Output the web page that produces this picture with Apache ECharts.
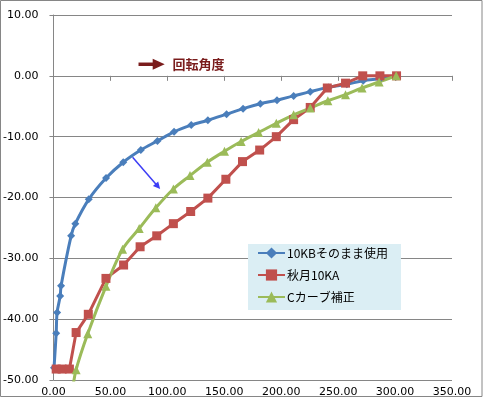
<!DOCTYPE html>
<html><head><meta charset="utf-8">
<script src="https://cdn.jsdelivr.net/npm/echarts@6/dist/echarts.min.js"></script>
<style>html,body{margin:0;padding:0;background:#fff}#c{width:483px;height:398px}</style>
</head><body><div id="c"></div>
<script>
// ---- data ----
const seriesNames = ['10KBそのまま使用', '秋月10KA', 'Cカーブ補正'];
const blueData = [[0.5,-48],[2.4,-42.3],[3.2,-38.9],[5.9,-36.2],[6.7,-34.5],[15.5,-26.3],[19.2,-24.3],[31,-20.3],[46.2,-16.8],[61.3,-14.2],[76.7,-12.2],[91.3,-10.7],[105.9,-9.2],[121,-8.1],[135.6,-7.3],[152,-6.3],[166.5,-5.4],[181.7,-4.6],[196.3,-4.0],[210.9,-3.3],[225.5,-2.6],[241.5,-1.9],[257.6,-1.4],[272,-0.8],[286.7,-0.5],[301.3,-0.1]];
const redData = [[2.4,-48.2],[7.6,-48.2],[14,-48.2],[19.9,-42.2],[30.6,-39.2],[46.1,-33.3],[61.6,-31.1],[76.1,-28.1],[90.7,-26.3],[105.3,-24.3],[120.5,-22.3],[135.6,-20.1],[151.4,-17.0],[166,-14.1],[181.1,-12.2],[195.7,-10.0],[210.9,-7.2],[225.5,-5.2],[240.5,-2.0],[256.5,-1.2],[271.6,0],[286.7,0],[301.3,0]];
const greenData = [[16.5,-52],[19.9,-48.3],[30.1,-42.4],[46.1,-34.6],[60.7,-28.5],[75.3,-25.1],[89.9,-21.7],[105.3,-18.6],[119.9,-16.4],[135.1,-14.2],[150.2,-12.4],[164.8,-10.8],[180.2,-9.3],[195.7,-7.8],[210.9,-6.4],[225.5,-5.3],[241,-4.1],[256.5,-3.1],[271,-2.0],[286,-1.0],[301,0]];
const xRange = [0, 350, 50];
const yRange = [-50, 10, 10];
const annotText = '回転角度';
// annotation anchor points in data coords
const redArrow = [[74.7, 1.9], [97.7, 1.9]];
const redTextAt = [104.5, 1.9];
const blueArrow = [[69.5, -13.4], [93.7, -18.6]];

const colors = ['#4a7ebb', '#c0504d', '#9bbb59'];
const axisGray = '#868686';
const fmt = v => v.toFixed(2);

const chart = echarts.init(document.getElementById('c'), null, {renderer: 'canvas'});
const sizes = {diamond: 8, rect: 9, triangle: 9};
const lineSeries = (name, data, color, symbol, smooth) => ({
  name, type: 'line', data, smooth, clip: true,
  symbol, symbolSize: sizes[symbol],
  showAllSymbol: true,
  lineStyle: {color, width: 3},
  itemStyle: {color, borderWidth: 0},
  emphasis: {disabled: true},
  animation: false
});
chart.setOption({
  animation: false,
  grid: {left: 52, top: 15, right: 31, bottom: 17, containLabel: false},
  xAxis: {
    type: 'value', min: xRange[0], max: xRange[1], interval: xRange[2],
    axisLine: {show: true, onZero: true, lineStyle: {color: axisGray, width: 1}},
    axisTick: {show: true, length: 5, lineStyle: {color: axisGray}},
    splitLine: {show: false},
    axisLabel: {formatter: fmt, color: '#000', fontFamily: 'DejaVu Sans', fontSize: 11, margin: 7}
  },
  yAxis: {
    type: 'value', min: yRange[0], max: yRange[1], interval: yRange[2],
    axisLine: {show: true, onZero: false, lineStyle: {color: axisGray, width: 1}},
    axisTick: {show: true, length: 4, lineStyle: {color: axisGray}},
    splitLine: {show: true, lineStyle: {color: axisGray, width: 1}},
    axisLabel: {formatter: fmt, color: '#000', fontFamily: 'DejaVu Sans', fontSize: 11, margin: 15}
  },
  legend: {
    orient: 'vertical', left: 248, top: 244,
    backgroundColor: '#dbeef4',
    padding: [3, 13, 7, 9],
    itemGap: 10, itemWidth: 27, itemHeight: 14,
    textStyle: {fontFamily: 'Noto Sans CJK JP', fontSize: 12, color: '#000', padding: [0,0,0,-3]},
    data: seriesNames
  },
  series: [
    lineSeries(seriesNames[0], blueData, colors[0], 'diamond', 0.35),
    lineSeries(seriesNames[1], redData, colors[1], 'rect', false),
    lineSeries(seriesNames[2], greenData, colors[2], 'triangle', 0.35)
  ]
});

function px(p) { return chart.convertToPixel({gridIndex: 0}, p); }
function arrow(a, b, color, width, headLen, headHalf) {
  const S = px(a), E = px(b);
  const dx = E[0] - S[0], dy = E[1] - S[1];
  const L = Math.hypot(dx, dy);
  const ux = dx / L, uy = dy / L, nx = -uy, ny = ux;
  const bx = E[0] - ux * headLen, by = E[1] - uy * headLen;
  return [
    {type: 'line', shape: {x1: S[0], y1: S[1], x2: bx + ux, y2: by + uy}, style: {stroke: color, lineWidth: width}},
    {type: 'polygon', shape: {points: [[E[0], E[1]], [bx + nx * headHalf, by + ny * headHalf], [bx - nx * headHalf, by - ny * headHalf]]}, style: {fill: color}}
  ];
}
const tp = px(redTextAt);
chart.setOption({
  graphic: [
    {type: 'rect', shape: {x: 0.5, y: 0.5, width: 481.5, height: 396}, style: {fill: 'none', stroke: axisGray, lineWidth: 1}, silent: true},
    ...arrow(redArrow[0], redArrow[1], '#7a1c1c', 3.5, 12, 5.5),
    {type: 'text', x: tp[0], y: tp[1], style: {text: annotText, fill: '#7a1c1c', font: 'bold 13px "Noto Sans CJK JP"', verticalAlign: 'middle', align: 'left'}},
    ...arrow(blueArrow[0], blueArrow[1], '#3d3df5', 1.5, 7, 3.5)
  ]
});
</script>
</body></html>
